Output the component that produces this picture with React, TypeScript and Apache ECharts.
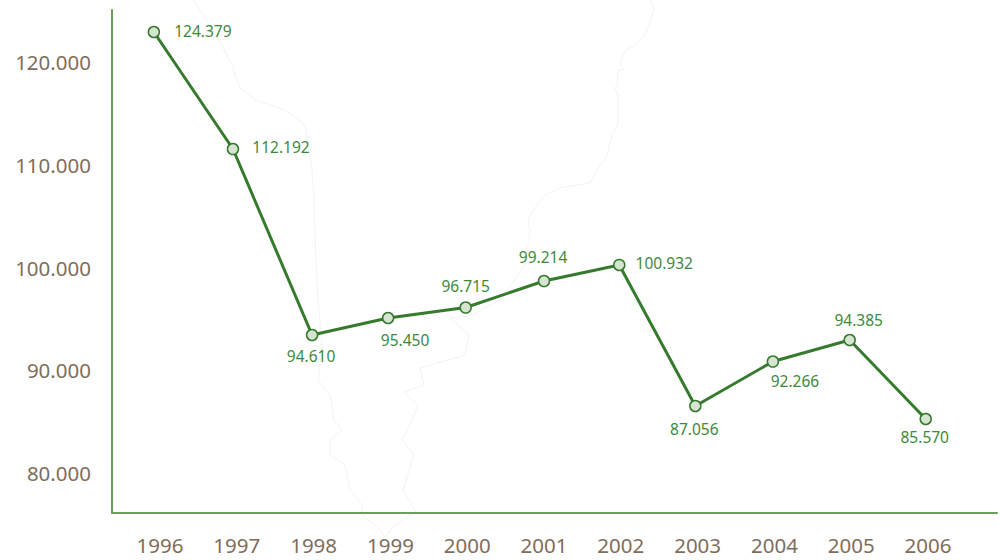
import React, { useEffect, useRef } from "react";
import * as echarts from "echarts";

// Category years and printed labels
const years = [1996, 1997, 1998, 1999, 2000, 2001, 2002, 2003, 2004, 2005, 2006];
const printedValues = ["124.379", "112.192", "94.610", "95.450", "96.715", "99.214", "100.932", "87.056", "92.266", "94.385", "85.570"];
// Marks (the drawn position differs slightly from the printed value)
const pointX = [1995.92, 1996.95, 1997.98, 1998.97, 1999.98, 2001.0, 2001.98, 2002.97, 2003.98, 2004.98, 2005.97];
const pointY = [122920, 111530, 93430, 95085, 96105, 98685, 100245, 86520, 90850, 92945, 85255];
const yTicks = [80000, 90000, 100000, 110000, 120000];

// Layout: offset of each value label from its point
const labelOffsets = [[49, -1], [48, -2], [-1, 21], [17, 22], [0, -22], [-1, -24], [45, -2], [-1, 23], [22, 19], [9, -20], [-1, 18]];

// Faint map outline in the backdrop
const outlineLeft = [[193, 0], [218, 38], [232, 65], [235, 75], [240, 88], [255, 100], [285, 110], [305, 125], [312, 170], [314, 200], [316, 260], [318, 300], [322, 345], [320, 365], [318, 380], [330, 395], [334, 420], [342, 430], [330, 440], [330, 455], [345, 465], [350, 490], [362, 505], [362, 515], [380, 530], [385, 537]];
const outlineRight = [[650, 0], [654, 10], [645, 35], [632, 47], [625, 50], [620, 65], [625, 70], [618, 70], [617, 85], [615, 88], [618, 95], [618, 125], [612, 135], [607, 155], [600, 165], [595, 175], [590, 183], [570, 186], [560, 188], [545, 195], [535, 208], [528, 220], [530, 232], [525, 265], [500, 300], [470, 316], [450, 318], [469, 335], [465, 355], [420, 368], [424, 385], [404, 392], [418, 405], [410, 425], [402, 440], [414, 455], [403, 490], [416, 512], [395, 525], [385, 537]];

const FONT = "'Noto Sans', sans-serif";
const BROWN = "#7f6d5b";
const GREEN = "#3c8a3c";
const LINE = "#367a2e";
const AXIS = "#6a9d5f";

export default function App() {
  const ref = useRef<HTMLDivElement>(null);
  useEffect(() => {
    document.body.style.margin = "0";
    const chart = echarts.init(ref.current!, null, { renderer: "svg" });
    chart.setOption({
      animation: false,
      backgroundColor: "#ffffff",
      graphic: [
        { type: "polyline", silent: true, z: -10, shape: { points: outlineLeft }, style: { stroke: "#f3f3f0", lineWidth: 1, fill: "none" } },
        { type: "polyline", silent: true, z: -10, shape: { points: outlineRight }, style: { stroke: "#f3f3f0", lineWidth: 1, fill: "none" } },
      ],
      grid: { left: 112, top: 10, width: 885, height: 503, containLabel: false },
      xAxis: {
        type: "value",
        min: 1995.375,
        max: 2006.898,
        splitLine: { show: false },
        axisLine: { show: true, onZero: false, lineStyle: { color: AXIS, width: 2 } },
        axisTick: { show: false },
        axisLabel: {
          customValues: years,
          formatter: (v: number) => String(v),
          color: BROWN,
          fontFamily: FONT,
          fontSize: 20.5,
          margin: 21,
        },
      },
      yAxis: {
        type: "value",
        min: 76107,
        max: 125061,
        splitLine: { show: false },
        axisLine: { show: true, onZero: false, lineStyle: { color: AXIS, width: 2 } },
        axisTick: { show: false },
        axisLabel: {
          customValues: yTicks,
          formatter: (v: number) => String(v / 1000) + ".000",
          color: BROWN,
          fontFamily: FONT,
          fontSize: 20.5,
          margin: 21,
        },
      },
      series: [
        {
          type: "line",
          data: pointX.map((x, i) => ({
            value: [x, pointY[i]],
            label: {
              show: true,
              position: "inside",
              align: "center",
              verticalAlign: "middle",
              offset: labelOffsets[i],
              formatter: printedValues[i],
              color: GREEN,
              fontFamily: FONT,
              fontSize: 15.5,
            },
          })),
          symbol: "circle",
          symbolSize: 11,
          showAllSymbol: true,
          lineStyle: { color: LINE, width: 3 },
          itemStyle: { color: "#d6e5d2", borderColor: LINE, borderWidth: 1.5 },
        },
      ],
    });
    return () => chart.dispose();
  }, []);
  return <div ref={ref} style={{ width: 1000, height: 560 }} />;
}
